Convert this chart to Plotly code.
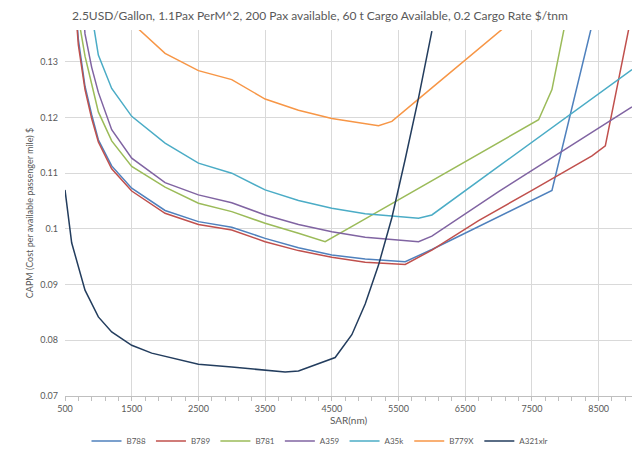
import plotly.graph_objects as go

# ---- data ----
b788_x = [500, 600, 700, 800, 900, 1000, 1200, 1500, 2000, 2500, 3000, 3500, 4000, 4500, 5000, 5600, 6000, 6700, 7800, 8000, 8400]
b788_y = [0.175, 0.150, 0.134, 0.1256, 0.1205, 0.116, 0.1113, 0.1073, 0.1033, 0.1013, 0.1003, 0.0983, 0.0966, 0.0953, 0.0946, 0.0941, 0.0963, 0.1004, 0.1069, 0.1168, 0.1366]

b789_x = [500, 600, 700, 800, 900, 1000, 1200, 1500, 2000, 2500, 3000, 3500, 4000, 4500, 5000, 5600, 6000, 6700, 7500, 8400, 8600, 8800, 9000]
b789_y = [0.175, 0.149, 0.133, 0.125, 0.1198, 0.1156, 0.1108, 0.1068, 0.1028, 0.1008, 0.0998, 0.0977, 0.0961, 0.0949, 0.0940, 0.0936, 0.0962, 0.1015, 0.1069, 0.1131, 0.1149, 0.1268, 0.1388]

b781_x = [500, 600, 700, 800, 900, 1000, 1200, 1500, 2000, 2500, 3000, 3500, 4000, 4400, 5000, 6000, 7000, 7600, 7800, 8000]
b781_y = [0.18, 0.155, 0.138, 0.131, 0.126, 0.1210, 0.1158, 0.1112, 0.1075, 0.1046, 0.1031, 0.1010, 0.0992, 0.0977, 0.1018, 0.1086, 0.1154, 0.1196, 0.1250, 0.137]

a359_x = [500, 600, 800, 900, 1000, 1200, 1500, 2000, 2500, 3000, 3500, 4000, 4500, 5000, 5800, 6000, 7000, 8000, 9000]
a359_y = [0.19, 0.165, 0.135, 0.129, 0.1245, 0.1178, 0.1127, 0.1083, 0.1061, 0.1047, 0.1025, 0.1008, 0.0995, 0.0985, 0.0977, 0.0987, 0.1067, 0.1143, 0.1219]

a35k_x = [500, 800, 1000, 1200, 1500, 2000, 2500, 3000, 3500, 4000, 4500, 5000, 5800, 6000, 7000, 8000, 9000]
a35k_y = [0.20, 0.146, 0.1312, 0.1252, 0.1202, 0.1154, 0.1118, 0.1100, 0.1070, 0.1051, 0.1037, 0.1027, 0.1019, 0.1025, 0.1112, 0.1199, 0.1286]

b779x_x = [1000, 1500, 2000, 2500, 3000, 3500, 4000, 4500, 5200, 5400, 6000, 7000, 7200]
b779x_y = [0.158, 0.137, 0.1315, 0.1284, 0.1268, 0.1233, 0.1213, 0.1198, 0.1185, 0.1193, 0.1253, 0.1353, 0.1373]

a321_x = [500, 600, 800, 1000, 1200, 1500, 1800, 2200, 2500, 3000, 3500, 3800, 4000, 4550, 4800, 5000, 5200, 5400, 5600, 5800, 6000]
a321_y = [0.107, 0.0975, 0.089, 0.0842, 0.0815, 0.0791, 0.0777, 0.0765, 0.0757, 0.0752, 0.0747, 0.0743, 0.0745, 0.0769, 0.081, 0.0865, 0.0935, 0.102, 0.1125, 0.1235, 0.1355]

series = [
    ("B788", b788_x, b788_y, "#4F81BD"),
    ("B789", b789_x, b789_y, "#C0504D"),
    ("B781", b781_x, b781_y, "#9BBB59"),
    ("A359", a359_x, a359_y, "#8064A2"),
    ("A35k", a35k_x, a35k_y, "#4BACC6"),
    ("B779X", b779x_x, b779x_y, "#F79646"),
    ("A321xlr", a321_x, a321_y, "#233D5E"),
]

title_text = "2.5USD/Gallon, 1.1Pax PerM^2, 200 Pax available, 60 t Cargo Available, 0.2 Cargo Rate $/tnm"
x_title = "SAR(nm)"
y_title = "CAPM (Cost per available passenger mile) $"

FONT = "Lato"
GREY = "#595959"

# the page body has an 8px margin, so the figure is sized to fit the window
W, H = 624, 437

fig = go.Figure()
for name, xs, ys, col in series:
    fig.add_trace(go.Scatter(x=xs, y=ys, mode="lines", name=name,
                             line=dict(color=col, width=1.5)))

fig.update_layout(
    width=W, height=H,
    margin=dict(l=57, r=0, t=22, b=49, autoexpand=False),
    paper_bgcolor="white", plot_bgcolor="white",
    font=dict(family=FONT, color=GREY, size=9),
    title=dict(text=title_text, x=0.5, xanchor="center", y=1 - 7.5 / H, yanchor="middle",
               font=dict(family=FONT, size=12, color=GREY)),
    showlegend=True,
    legend=dict(orientation="h", xref="container", x=0.5, xanchor="center",
                yref="container", y=4 / H, yanchor="middle",
                font=dict(family=FONT, size=8, color=GREY), itemwidth=30),
    xaxis=dict(range=[500, 9000], tick0=500, dtick=1000, showgrid=True, gridcolor="#D9D9D9",
               gridwidth=1, zeroline=False, showline=True, linecolor="#BFBFBF",
               ticks="outside", ticklen=4, tickcolor="#BFBFBF", automargin=False,
               minor=dict(dtick=200, tick0=500, ticks="outside", ticklen=4, tickcolor="#BFBFBF", showgrid=False),
               title=dict(text=x_title, standoff=8, font=dict(size=10, color=GREY)),
               tickfont=dict(size=9, color=GREY)),
    yaxis=dict(range=[0.07, 0.1357], dtick=0.01, tick0=0.07, showgrid=True, gridcolor="#D9D9D9",
               gridwidth=1, zeroline=False, showline=False, automargin=False,
               ticklabelstandoff=6,
               title=dict(text=y_title, standoff=5, font=dict(size=9, color=GREY)),
               tickfont=dict(size=9, color=GREY)),
)

fig.write_html("out.html")
